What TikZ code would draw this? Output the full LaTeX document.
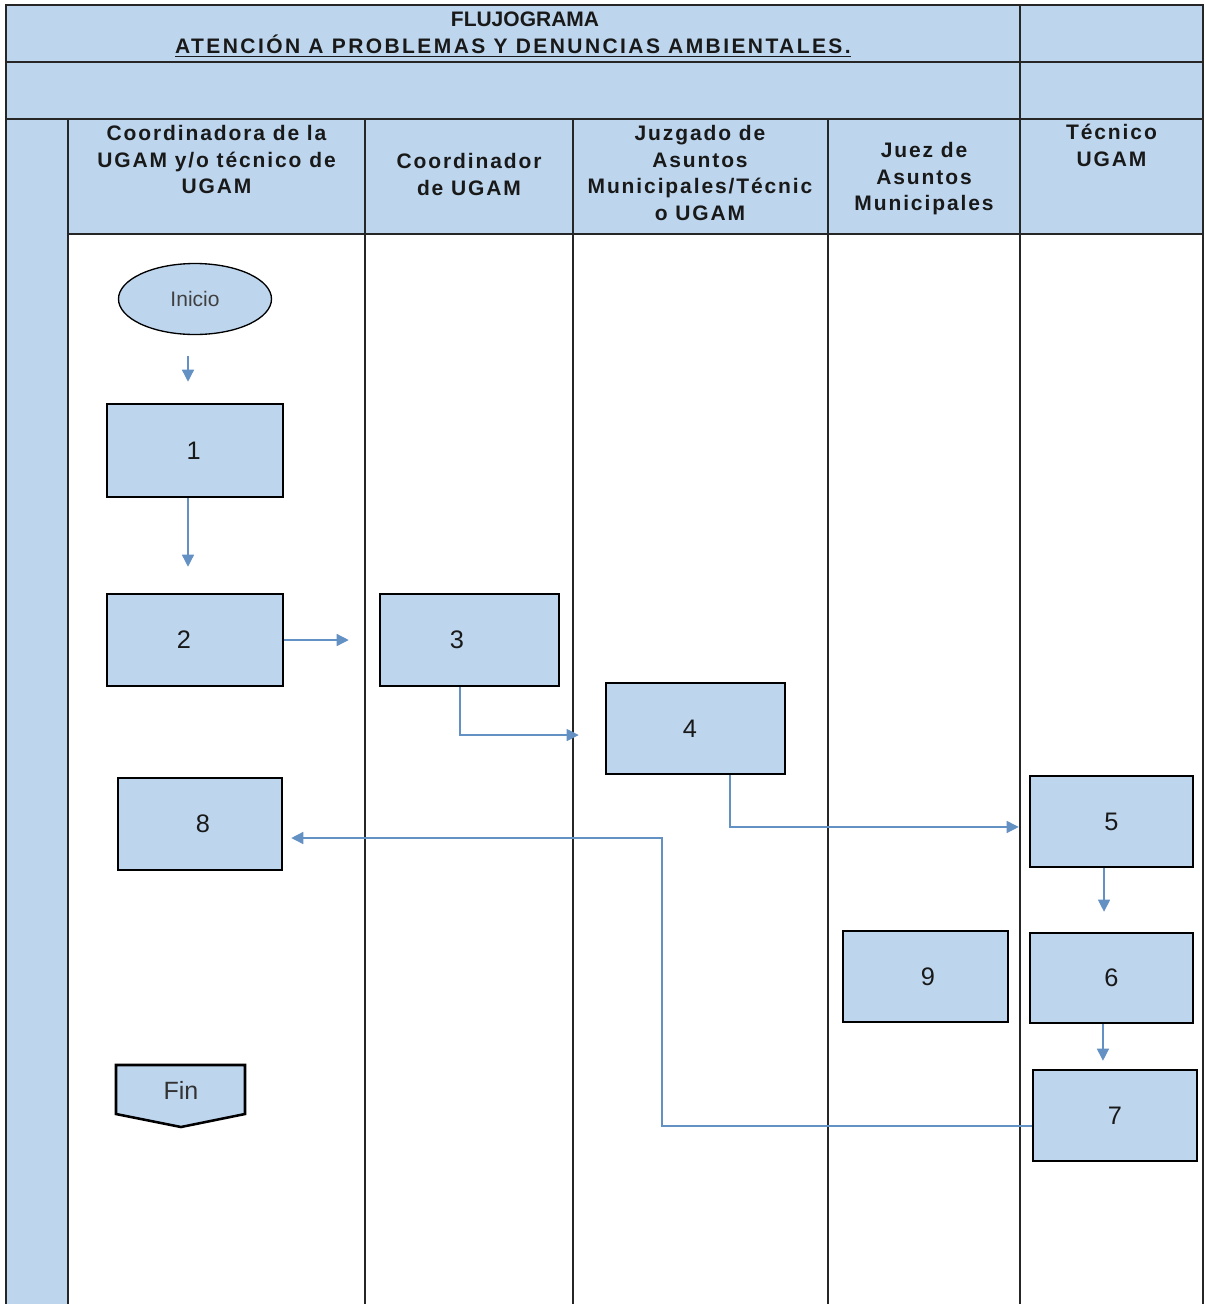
\documentclass[tikz,border=0pt]{standalone}
\usepackage{fontspec}
\setmainfont{Liberation Sans}
\newfontfamily\hdrfont{Liberation Sans}[LetterSpace=9]
\newfontfamily\ttlfont{Liberation Sans}[LetterSpace=11.5]
\usetikzlibrary{arrows.meta,shapes.geometric}
\definecolor{ugblue}{RGB}{189,214,238}
\definecolor{arrcol}{RGB}{100,145,195}
\definecolor{txt}{RGB}{25,25,25}
\begin{document}
\begin{tikzpicture}[x=0.75pt,y=-0.75pt,
  gridline/.style={draw=black!85,line width=1.1pt},
  stepbox/.style={draw=black,line width=1.9pt,fill=ugblue,text=txt,inner sep=0pt,
    font={\fontsize{19pt}{22pt}\selectfont}},
  lanehdr/.style={align=center,inner sep=0pt,anchor=north,text=txt,
    font={\hdrfont\bfseries\fontsize{15.75pt}{19.9pt}\selectfont}},
  ttl/.style={inner sep=0pt,text=txt,font={\bfseries\fontsize{15.75pt}{19pt}\selectfont}},
  arr/.style={draw=arrcol,line width=1pt,-{Triangle[length=9pt,width=9pt]}}]
\useasboundingbox (0,0) rectangle (1204,1304);
% backgrounds
\fill[ugblue] (6,5) rectangle (1203,234);
\fill[ugblue] (6,234) rectangle (68,1304);
% grid
\draw[gridline] (6,1304) -- (6,5) -- (1203,5) -- (1203,1304);
\draw[gridline] (6,62) -- (1203,62);
\draw[gridline] (6,119) -- (1203,119);
\draw[gridline] (68,234) -- (1203,234);
\draw[gridline] (68,119) -- (68,1304);
\draw[gridline] (365,119) -- (365,1304);
\draw[gridline] (573,119) -- (573,1304);
\draw[gridline] (828,119) -- (828,1304);
\draw[gridline] (1020,5) -- (1020,1304);
% titles
\node[ttl] (t1) at (525,19) {FLUJOGRAMA};
\node[ttl,font={\ttlfont\bfseries\fontsize{15.75pt}{19pt}\selectfont}] (t2) at (513,46)
  {\underline{ATENCIÓN A PROBLEMAS Y DENUNCIAS AMBIENTALES.}};
% lane headers
\node[lanehdr] (h1) at (216.5,125) {Coordinadora de la\\UGAM y/o técnico de\\UGAM};
\node[lanehdr] (h2) at (469,153) {Coordinador\\de UGAM};
\node[lanehdr] (h3) at (700,125) {Juzgado de\\Asuntos\\Municipales/Técnic\\o UGAM};
\node[lanehdr] (h4) at (924,142) {Juez de\\Asuntos\\Municipales};
\node[lanehdr] (h5) at (1111.5,124) {Técnico\\UGAM};
% shapes
\node[ellipse,draw=black,line width=1pt,fill=ugblue,minimum width=114.75pt,minimum height=53.25pt,
  inner sep=0pt,text=black!75,font={\fontsize{15.75pt}{18pt}\selectfont}] (inicio) at (195,299) {Inicio};
\node[stepbox,minimum width=132pt,minimum height=69.75pt] (b1) at (195,450.5) {\hspace*{-2pt}1};
\node[stepbox,minimum width=132pt,minimum height=69pt] (b2) at (195,640) {\hspace*{-16.5pt}2};
\node[stepbox,minimum width=134.25pt,minimum height=69pt] (b3) at (469.5,640) {\hspace*{-18.75pt}3};
\node[stepbox,minimum width=134.25pt,minimum height=68.25pt] (b4) at (695.5,728.5) {\hspace*{-8.25pt}4};
\node[stepbox,minimum width=122.25pt,minimum height=68.25pt] (b5) at (1111.5,821.5) {5};
\node[stepbox,minimum width=122.25pt,minimum height=67.5pt] (b6) at (1111.5,978) {6};
\node[stepbox,minimum width=123pt,minimum height=68.25pt] (b7) at (1115,1115.5) {7};
\node[stepbox,minimum width=123.75pt,minimum height=68.25pt] (b9) at (925.5,976.5) {\hspace*{3.5pt}9};
\node[stepbox,minimum width=123pt,minimum height=69pt] (b8) at (200,824) {\hspace*{4.5pt}8};
\draw[line width=1.9pt,fill=ugblue] (116,1065) -- (245,1065) -- (245,1114) -- (181,1127) -- (116,1114) -- cycle;
\node[inner sep=0pt,text=black!80,font={\fontsize{18.75pt}{22pt}\selectfont}] (fin) at (181,1090) {Fin};
% connectors
\draw[arr,shorten <=15.4pt,shorten >=15.75pt] ([xshift=-5.25pt]inicio.south) -- ([xshift=-5.25pt]b1.north);
\draw[arr,shorten >=19.5pt] ([xshift=-5.25pt]b1.south) -- ([xshift=-5.25pt]b2.north);
\draw[arr,shorten >=22.5pt] (b2.east) -- (b3.west);
\draw[arr,shorten >=19.5pt] ([xshift=-7.1pt]b3.south) |- ([yshift=-4.9pt]b4.west);
\draw[arr,shorten >=7.5pt] ([xshift=25.9pt]b4.south) |- ([yshift=-4.1pt]b5.west);
\draw[arr,shorten >=15pt] ([xshift=-5.6pt]b5.south) -- ([xshift=-5.6pt]b6.south |- b6.north);
\draw[arr,shorten >=6pt] ([xshift=-6.4pt]b6.south) -- ([xshift=-6.4pt]b6.south |- b7.north);
\coordinate (k78) at (662,838);
\draw[arr,shorten >=6pt] ([yshift=-7.9pt]b7.west) -| (k78) -- ([yshift=-10.5pt]b8.east);
\end{tikzpicture}
\end{document}
